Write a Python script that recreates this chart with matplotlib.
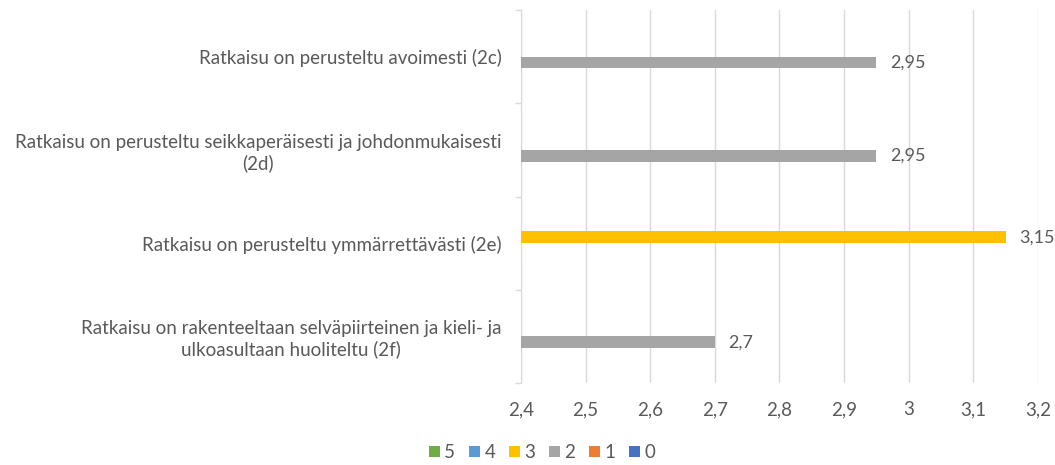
import numpy as np
import matplotlib.pyplot as plt
from matplotlib.ticker import FuncFormatter, FixedLocator

plt.rcParams['font.family'] = ['Lato', 'DejaVu Sans']

# Arviointikohdat (ylhäältä alas)
categories = [
    "Ratkaisu on perusteltu avoimesti (2c)",
    "Ratkaisu on perusteltu seikkaperäisesti ja johdonmukaisesti\n(2d)",
    "Ratkaisu on perusteltu ymmärrettävästi (2e)",
    "Ratkaisu on rakenteeltaan selväpiirteinen ja kieli- ja\nulkoasultaan huoliteltu (2f)",
]

series_names = ["5", "4", "3", "2", "1", "0"]
series_colors = ["#70AD47", "#5B9BD5", "#FFC000", "#A5A5A5", "#ED7D31", "#4472C4"]

nan = np.nan
vals_5 = [nan, nan, nan, nan]
vals_4 = [nan, nan, nan, nan]
vals_3 = [nan, nan, 3.15, nan]
vals_2 = [2.95, 2.95, nan, 2.7]
vals_1 = [nan, nan, nan, nan]
vals_0 = [nan, nan, nan, nan]
all_vals = [vals_5, vals_4, vals_3, vals_2, vals_1, vals_0]

x_min, x_max = 2.4, 3.2
txt_color = "#595959"
fs = 13.5

fig = plt.figure(figsize=(10.55, 4.65), dpi=100)
ax = fig.add_axes([0.4938, 0.1763, 0.4901, 0.8022])

n = len(series_names)
h = 0.125
y = np.arange(len(categories))
for i, (name, col, vals) in enumerate(zip(series_names, series_colors, all_vals)):
    off = (i - (n - 1) / 2) * h
    v = np.array(vals, dtype=float)
    ax.barh(y + off, v - x_min, left=x_min, height=h, color=col, label=name, zorder=3)
    for yy, val in zip(y + off, v):
        if not np.isnan(val):
            ax.text(val + 0.021, yy, f"{val:g}".replace(".", ","), va="center", ha="left",
                    fontsize=13, color=txt_color, clip_on=False)

ax.set_xlim(x_min, x_max)
ax.set_ylim(len(categories) - 0.5, -0.5)
ax.xaxis.set_major_locator(FixedLocator(np.round(np.arange(2.4, 3.21, 0.1), 1)))
ax.xaxis.set_major_formatter(FuncFormatter(lambda v, p: f"{v:g}".replace(".", ",")))
ax.grid(axis="x", color="#D9D9D9", linewidth=1, zorder=0)

# kategoria-akselin jakoviivat kohtien väliin
ax.set_yticks(y)
ax.set_yticklabels(categories, multialignment="center", fontsize=fs, color=txt_color)
ax.yaxis.set_minor_locator(FixedLocator(np.arange(-0.5, len(categories), 1)))
ax.tick_params(axis="y", which="major", length=0, pad=14)
ax.tick_params(axis="y", which="minor", length=4.5, color="#D9D9D9", width=1)
ax.tick_params(axis="x", length=0, pad=13, labelsize=fs, labelcolor=txt_color)

for s in ["top", "right", "bottom"]:
    ax.spines[s].set_visible(False)
ax.spines["left"].set_color("#D9D9D9")

fig.legend(loc="center", bbox_to_anchor=(0.514, 0.026), ncol=n, frameon=False,
           fontsize=fs, labelcolor=txt_color, handlelength=0.55, handleheight=0.55,
           handletextpad=0.25, columnspacing=0.75)

fig.savefig("out.png", dpi=100)
